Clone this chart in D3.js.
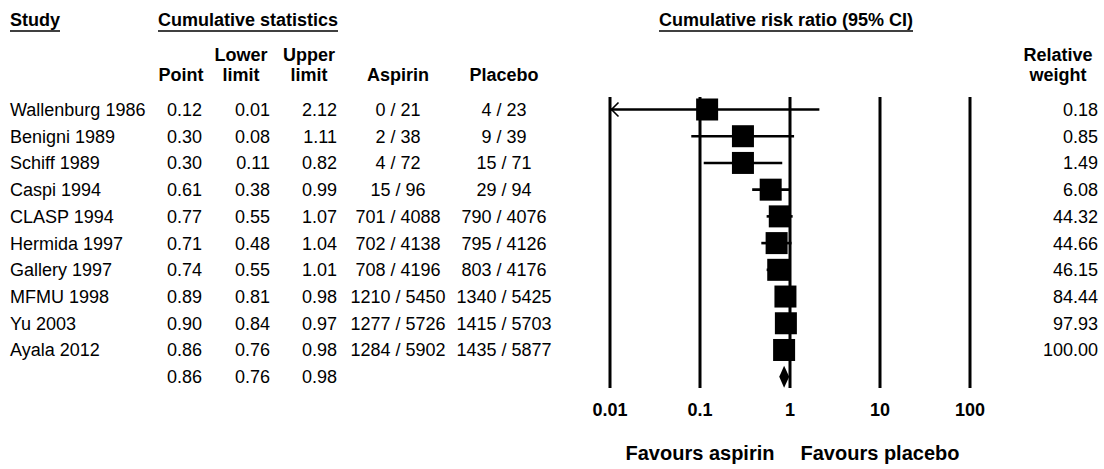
<!DOCTYPE html>
<html>
<head>
<meta charset="utf-8">
<script src="https://cdn.jsdelivr.net/npm/d3@7"></script>
<style>
  html, body { margin: 0; padding: 0; background: #fff; }
  svg { display: block; font-family: Arial, "Liberation Sans", sans-serif; }
</style>
</head>
<body>
<svg id="chart" width="1104" height="469"></svg>
<script>
// ---- Data ----
const studies = ["Wallenburg 1986","Benigni 1989","Schiff 1989","Caspi 1994","CLASP 1994",
  "Hermida 1997","Gallery 1997","MFMU 1998","Yu 2003","Ayala 2012"];
const pointRR = [0.12,0.30,0.30,0.61,0.77,0.71,0.74,0.89,0.90,0.86];
const lowerRR = [0.01,0.08,0.11,0.38,0.55,0.48,0.55,0.81,0.84,0.76];
const upperRR = [2.12,1.11,0.82,0.99,1.07,1.04,1.01,0.98,0.97,0.98];
const aspirinEvents = [0,2,4,15,701,702,708,1210,1277,1284];
const aspirinTotal  = [21,38,72,96,4088,4138,4196,5450,5726,5902];
const placeboEvents = [4,9,15,29,790,795,803,1340,1415,1435];
const placeboTotal  = [23,39,71,94,4076,4126,4176,5425,5703,5877];
const relWeight = [0.18,0.85,1.49,6.08,44.32,44.66,46.15,84.44,97.93,100.00];
const summaryRR = [0.86, 0.76, 0.98]; // point, lower, upper
const tickValues = [0.01, 0.1, 1, 10, 100];
const tickLabels = ["0.01", "0.1", "1", "10", "100"];

// ---- Layout ----
const svg = d3.select("#chart");
const x = d3.scaleLog().domain([0.01, 100]).range([610, 970]);
const y = d3.scaleLinear().domain([0, 10]).range([109.5, 376.7]);
const fmt2 = d3.format(".2f");
const FS = 18;

function txt(g, xx, yy, s, opts = {}) {
  const t = g.append("text")
    .attr("x", xx).attr("y", yy)
    .attr("font-size", opts.size || FS)
    .attr("font-weight", opts.bold ? "bold" : "normal")
    .attr("text-anchor", opts.anchor || "start")
    .attr("fill", "#000")
    .text(s);
  return t;
}
function underline(t, yy) {
  const b = t.node().getBBox();
  svg.append("line").attr("x1", b.x).attr("x2", b.x + b.width)
    .attr("y1", yy).attr("y2", yy).attr("stroke", "#000").attr("stroke-width", 1.6);
}

// ---- Headers ----
underline(txt(svg, 10, 26, "Study", {bold: true}), 31);
underline(txt(svg, 248, 26, "Cumulative statistics", {bold: true, anchor: "middle"}), 31);
underline(txt(svg, 786, 26, "Cumulative risk ratio (95% CI)", {bold: true, anchor: "middle"}), 31);

const colPoint = 202, colLower = 270, colUpper = 337, colAsp = 398, colPla = 504, colW = 1098;
txt(svg, 181, 81, "Point", {bold: true, anchor: "middle"});
txt(svg, 241, 61, "Lower", {bold: true, anchor: "middle"});
txt(svg, 241, 81, "limit", {bold: true, anchor: "middle"});
txt(svg, 309, 61, "Upper", {bold: true, anchor: "middle"});
txt(svg, 309, 81, "limit", {bold: true, anchor: "middle"});
txt(svg, colAsp, 81, "Aspirin", {bold: true, anchor: "middle"});
txt(svg, colPla, 81, "Placebo", {bold: true, anchor: "middle"});
txt(svg, 1058, 61, "Relative", {bold: true, anchor: "middle"});
txt(svg, 1058, 81, "weight", {bold: true, anchor: "middle"});

// ---- Table rows ----
const rows = svg.append("g");
studies.forEach((s, i) => {
  const yy = y(i) + 6.5;
  txt(rows, 10, yy, s);
  txt(rows, colPoint, yy, fmt2(pointRR[i]), {anchor: "end"});
  txt(rows, colLower, yy, fmt2(lowerRR[i]), {anchor: "end"});
  txt(rows, colUpper, yy, fmt2(upperRR[i]), {anchor: "end"});
  txt(rows, colAsp, yy, aspirinEvents[i] + " / " + aspirinTotal[i], {anchor: "middle"});
  txt(rows, colPla, yy, placeboEvents[i] + " / " + placeboTotal[i], {anchor: "middle"});
  txt(rows, colW, yy, fmt2(relWeight[i]), {anchor: "end"});
});
txt(rows, colPoint, y(10) + 6.5, fmt2(summaryRR[0]), {anchor: "end"});
txt(rows, colLower, y(10) + 6.5, fmt2(summaryRR[1]), {anchor: "end"});
txt(rows, colUpper, y(10) + 6.5, fmt2(summaryRR[2]), {anchor: "end"});

// ---- Forest plot ----
const plot = svg.append("g");
plot.selectAll("line.ref").data(tickValues).join("line")
  .attr("class", "ref")
  .attr("x1", d => x(d)).attr("x2", d => x(d))
  .attr("y1", 97).attr("y2", 388)
  .attr("stroke", "#000").attr("stroke-width", 3);

const idx = d3.range(studies.length);
plot.selectAll("line.ci").data(idx).join("line")
  .attr("class", "ci")
  .attr("x1", i => x(Math.max(lowerRR[i], 0.01)))
  .attr("x2", i => x(Math.min(upperRR[i], 100)))
  .attr("y1", i => y(i)).attr("y2", i => y(i))
  .attr("stroke", "#000").attr("stroke-width", 2.6);

// arrow for truncated lower limit
idx.filter(i => lowerRR[i] <= 0.01).forEach(i => {
  const x0 = x(0.01) + 1.5, yy = y(i);
  plot.append("path")
    .attr("d", `M${x0 + 7},${yy - 7} L${x0},${yy} L${x0 + 7},${yy + 7}`)
    .attr("fill", "none").attr("stroke", "#000").attr("stroke-width", 1.6);
});

const SQ = 22;
plot.selectAll("rect.pt").data(idx).join("rect")
  .attr("class", "pt")
  .attr("x", i => x(pointRR[i]) - SQ / 2)
  .attr("y", i => y(i) - SQ / 2)
  .attr("width", SQ).attr("height", SQ)
  .attr("fill", "#000");

const ys = y(10);
plot.append("path")
  .attr("d", `M${x(summaryRR[1])},${ys} L${x(summaryRR[0])},${ys - 11} L${x(summaryRR[2])},${ys} L${x(summaryRR[0])},${ys + 11} Z`)
  .attr("fill", "#000");

// tick labels
plot.selectAll("text.tick").data(tickValues).join("text")
  .attr("class", "tick")
  .attr("x", d => x(d)).attr("y", 416)
  .attr("text-anchor", "middle")
  .attr("font-size", 18).attr("font-weight", "bold")
  .text((d, i) => tickLabels[i]);

txt(svg, x(0.1), 460, "Favours aspirin", {bold: true, anchor: "middle", size: 20});
txt(svg, x(10), 460, "Favours placebo", {bold: true, anchor: "middle", size: 20});
</script>
</body>
</html>
